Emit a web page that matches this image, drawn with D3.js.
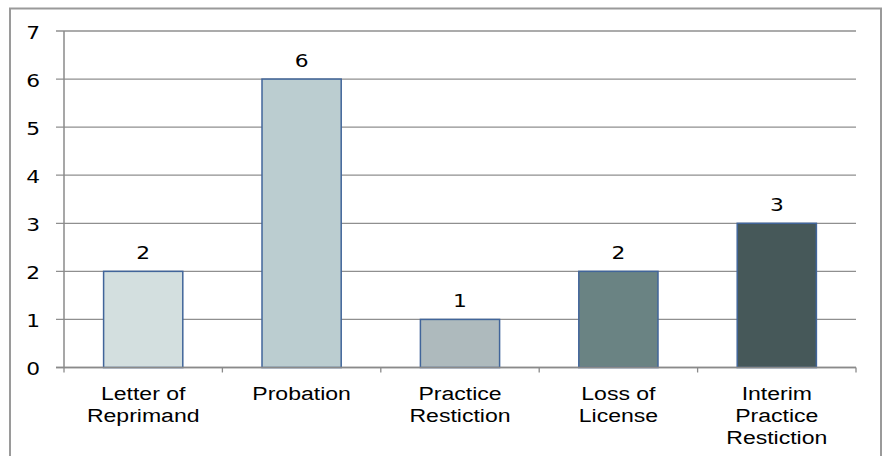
<!DOCTYPE html>
<html>
<head>
<meta charset="utf-8">
<script src="https://cdnjs.cloudflare.com/ajax/libs/d3/7.8.5/d3.min.js"></script>
<style>
  body { margin: 0; background: #fff; }
  svg { display: block; }
</style>
</head>
<body>
<div id="chart"></div>
<script>
// data
var categories = [["Letter of", "Reprimand"], ["Probation"], ["Practice", "Restiction"],
                  ["Loss of", "License"], ["Interim", "Practice", "Restiction"]];
var values = [2, 6, 1, 2, 3];
var barColors = ["#d3dfdf", "#bbcdd0", "#aebabd", "#6a8383", "#465859"];
var yTicks = [0, 1, 2, 3, 4, 5, 6, 7];

// the picture is stretched sideways, so text gets stretched too
var sx = 1.28;

var W = 891, H = 456;
var margin = {top: 31, right: 35, bottom: 88, left: 64};

var svg = d3.select("#chart").append("svg")
    .attr("width", W)
    .attr("height", H);

// outer frame (bottom edge runs off the picture)
svg.append("rect")
    .attr("x", 10).attr("y", 8.5)
    .attr("width", 871).attr("height", 470)
    .style("fill", "none")
    .style("stroke", "#9a9a9a")
    .style("stroke-width", 2);

var keys = d3.range(values.length);
var xScale = d3.scaleBand().domain(keys).range([margin.left, W - margin.right]).paddingInner(0.5).paddingOuter(0.25);
var bandScale = d3.scaleBand().domain(keys).range([margin.left, W - margin.right]);
var yScale = d3.scaleLinear().domain([0, 7]).range([367.5, margin.top]);

var g = svg.append("g");

// gridlines with little ticks on the left
g.selectAll(".grid").data(yTicks).enter()
    .append("line").attr("class", "grid")
    .attr("x1", margin.left - 8).attr("x2", W - margin.right)
    .attr("y1", function(d) { return yScale(d); })
    .attr("y2", function(d) { return yScale(d); })
    .style("stroke", "#8f8f8f")
    .style("stroke-width", 1.3);

// y axis line
g.append("line")
    .attr("x1", margin.left).attr("x2", margin.left)
    .attr("y1", yScale(7)).attr("y2", yScale(0))
    .style("stroke", "#8a8a8a").style("stroke-width", 1.5);

// category tick marks under the x axis
var bounds = keys.map(function(k) { return bandScale(k); }).concat([W - margin.right]);
g.selectAll(".xtick").data(bounds).enter()
    .append("line").attr("class", "xtick")
    .attr("x1", function(d) { return d; }).attr("x2", function(d) { return d; })
    .attr("y1", yScale(0)).attr("y2", yScale(0) + 5)
    .style("stroke", "#8a8a8a").style("stroke-width", 1.3);

// bars
g.selectAll(".bar").data(values).enter()
    .append("rect").attr("class", "bar")
    .attr("x", function(d, i) { return xScale(i); })
    .attr("y", function(d) { return yScale(d); })
    .attr("width", xScale.bandwidth())
    .attr("height", function(d) { return yScale(0) - yScale(d); })
    .style("fill", function(d, i) { return barColors[i]; })
    .style("stroke", "#41659a")
    .style("stroke-width", 1.5);

// x axis line on top of the bars
g.append("line")
    .attr("x1", margin.left - 8).attr("x2", W - margin.right)
    .attr("y1", yScale(0)).attr("y2", yScale(0))
    .style("stroke", "#8a8a8a").style("stroke-width", 1.5);

// y tick labels
g.selectAll(".ylab").data(yTicks).enter()
    .append("text").attr("class", "ylab")
    .attr("transform", function(d) { return "translate(40," + (yScale(d) + 7.5) + ") scale(" + sx + ",1)"; })
    .attr("text-anchor", "end")
    .style("font", "17px 'DejaVu Sans'")
    .style("fill", "#000")
    .text(function(d) { return d; });

// value labels over bars
g.selectAll(".vlab").data(values).enter()
    .append("text").attr("class", "vlab")
    .attr("transform", function(d, i) {
        return "translate(" + (xScale(i) + xScale.bandwidth() / 2) + "," + (yScale(d) - 12.5) + ") scale(" + sx + ",1)";
    })
    .attr("text-anchor", "middle")
    .style("font", "17px 'DejaVu Sans'")
    .style("fill", "#000")
    .text(function(d) { return d; });

// category labels, one text per line
categories.forEach(function(lines, i) {
    var cx = xScale(i) + xScale.bandwidth() / 2;
    lines.forEach(function(line, j) {
        g.append("text")
            .attr("transform", "translate(" + cx + "," + (400 + j * 22) + ") scale(" + sx + ",1)")
            .attr("text-anchor", "middle")
            .style("font", "18px 'Liberation Sans'")
            .style("fill", "#000")
            .text(line);
    });
});
</script>
</body>
</html>
